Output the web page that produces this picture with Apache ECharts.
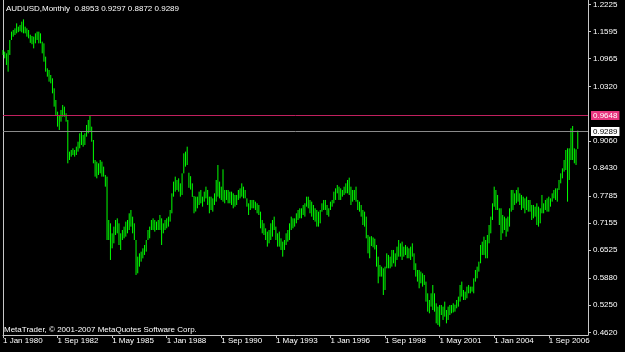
<!DOCTYPE html>
<html>
<head>
<meta charset="utf-8">
<title>AUDUSD,Monthly</title>
<script src="https://cdn.jsdelivr.net/npm/echarts@6/dist/echarts.min.js"></script>
<style>
    html, body { margin: 0; padding: 0; background: #000; }
    #chart_ref { width: 625px; height: 352px; }
</style>
</head>
<body>
<div id="chart_ref"></div>
<script>
    // monthly highs, one row per year, starting Jan 1980
    const highs = [
        1.1166, 1.1127, 1.1088, 1.1166, 1.1398, 1.1591, 1.1629, 1.1668, 1.1784, 1.1707, 1.1745, 1.1823,
        1.1877, 1.1707, 1.1668, 1.1629, 1.1520, 1.1490, 1.1475, 1.1552, 1.1591, 1.1591, 1.1552, 1.1359,
        1.1320, 1.1011, 1.0741, 1.0702, 1.0586, 1.0509, 1.0277, 1.0006, 0.9736, 0.9659, 0.9775, 0.9891,
        0.9852, 0.9697, 0.9543, 0.8809, 0.8847, 0.8886, 0.8847, 0.8924, 0.9040, 0.9234, 0.9272, 0.9195,
        0.9234, 0.9427, 0.9543, 0.9643, 0.9388, 0.9079, 0.8615, 0.8577, 0.8538, 0.8615, 0.8577, 0.8461,
        0.8268, 0.8229, 0.7224, 0.7147, 0.6915, 0.7070, 0.7224, 0.7263, 0.7147, 0.6915, 0.6992, 0.7070,
        0.7186, 0.7224, 0.7379, 0.7456, 0.7301, 0.7147, 0.6760, 0.6374, 0.6451, 0.6490, 0.6567, 0.6644,
        0.6760, 0.6992, 0.7070, 0.7224, 0.7263, 0.7224, 0.7186, 0.7224, 0.7340, 0.7263, 0.7147, 0.7224,
        0.7263, 0.7301, 0.7456, 0.7842, 0.8113, 0.8229, 0.8152, 0.8190, 0.8074, 0.8306, 0.8770, 0.8809,
        0.8924, 0.8320, 0.8240, 0.8074, 0.7780, 0.7765, 0.7765, 0.7881, 0.7920, 0.7765, 0.7881, 0.7997,
        0.7920, 0.7765, 0.7765, 0.7726, 0.7842, 0.8152, 0.8499, 0.8113, 0.7997, 0.8399, 0.7920, 0.7920,
        0.7920, 0.7881, 0.7881, 0.7842, 0.7804, 0.7804, 0.7920, 0.7958, 0.8074, 0.7997, 0.7920, 0.7726,
        0.7611, 0.7688, 0.7688, 0.7688, 0.7649, 0.7611, 0.7572, 0.7417, 0.7224, 0.7147, 0.7031, 0.6954,
        0.6992, 0.7147, 0.7224, 0.7302, 0.7070, 0.6915, 0.6954, 0.6799, 0.6722, 0.6760, 0.6915, 0.6992,
        0.7147, 0.7302, 0.7263, 0.7263, 0.7379, 0.7456, 0.7495, 0.7495, 0.7572, 0.7611, 0.7765, 0.7765,
        0.7688, 0.7649, 0.7572, 0.7495, 0.7456, 0.7417, 0.7456, 0.7611, 0.7688, 0.7688, 0.7572, 0.7495,
        0.7649, 0.7688, 0.7881, 0.7958, 0.8036, 0.7997, 0.7958, 0.7920, 0.7997, 0.8074, 0.8152, 0.8206,
        0.7997, 0.7920, 0.7920, 0.7997, 0.7688, 0.7649, 0.7572, 0.7456, 0.7417, 0.7302, 0.6876, 0.6838,
        0.6850, 0.6820, 0.6790, 0.6645, 0.6374, 0.6181, 0.6142, 0.6104, 0.6142, 0.6451, 0.6413, 0.6374,
        0.6529, 0.6529, 0.6451, 0.6606, 0.6760, 0.6683, 0.6722, 0.6606, 0.6645, 0.6606, 0.6567, 0.6606,
        0.6683, 0.6451, 0.6220, 0.6065, 0.6065, 0.6027, 0.5988, 0.5949, 0.5795, 0.5524, 0.5369, 0.5524,
        0.5717, 0.5524, 0.5292, 0.5215, 0.5253, 0.5253, 0.5215, 0.5331, 0.5137, 0.5215, 0.5253, 0.5253,
        0.5292, 0.5260, 0.5369, 0.5447, 0.5717, 0.5795, 0.5601, 0.5563, 0.5679, 0.5717, 0.5679, 0.5679,
        0.5872, 0.6065, 0.6142, 0.6258, 0.6645, 0.6722, 0.6838, 0.6760, 0.6876, 0.7108, 0.7302, 0.7611,
        0.7997, 0.7920, 0.7804, 0.7495, 0.7495, 0.7340, 0.7302, 0.7263, 0.7302, 0.7495, 0.7920, 0.7920,
        0.7842, 0.7920, 0.7981, 0.7842, 0.7804, 0.7765, 0.7726, 0.7765, 0.7688, 0.7688, 0.7572, 0.7572,
        0.7533, 0.7611, 0.7533, 0.7495, 0.7804, 0.7611, 0.7688, 0.7726, 0.7765, 0.7726, 0.7842, 0.7920,
        0.7958, 0.7958, 0.8152, 0.8306, 0.8422, 0.8615, 0.8847, 0.8886, 0.8886, 0.9350, 0.9404, 0.8886,
        0.8863, 0.9297
    ]
    // monthly lows, same layout
    const lows = [
        1.1050, 1.0973, 1.0818, 1.0663, 1.1050, 1.1398, 1.1475, 1.1514, 1.1552, 1.1580, 1.1600, 1.1575,
        1.1552, 1.1552, 1.1475, 1.1436, 1.1330, 1.1300, 1.1204, 1.1320, 1.1398, 1.1320, 1.1320, 1.1088,
        1.0895, 1.0663, 1.0547, 1.0431, 1.0393, 1.0161, 0.9852, 0.9659, 0.9388, 0.9311, 0.9504, 0.9620,
        0.9620, 0.9504, 0.8538, 0.8615, 0.8693, 0.8731, 0.8693, 0.8731, 0.8809, 0.8886, 0.8963, 0.8924,
        0.8963, 0.9156, 0.9234, 0.9272, 0.9040, 0.8538, 0.8229, 0.8190, 0.8268, 0.8306, 0.8229, 0.8229,
        0.7997, 0.6760, 0.6760, 0.6297, 0.6567, 0.6683, 0.6876, 0.6915, 0.6644, 0.6528, 0.6760, 0.6799,
        0.6838, 0.6915, 0.6992, 0.7070, 0.6915, 0.6760, 0.5949, 0.5988, 0.6142, 0.6258, 0.6335, 0.6413,
        0.6490, 0.6760, 0.6799, 0.6992, 0.6992, 0.6954, 0.6992, 0.6992, 0.6992, 0.6644, 0.6915, 0.6992,
        0.7031, 0.7070, 0.7186, 0.7379, 0.7765, 0.7881, 0.7920, 0.7881, 0.7765, 0.7804, 0.8306, 0.8461,
        0.8499, 0.7970, 0.7930, 0.7760, 0.7380, 0.7420, 0.7495, 0.7572, 0.7611, 0.7533, 0.7649, 0.7726,
        0.7572, 0.7379, 0.7456, 0.7417, 0.7572, 0.7649, 0.7765, 0.7726, 0.7688, 0.7649, 0.7611, 0.7688,
        0.7611, 0.7611, 0.7572, 0.7495, 0.7533, 0.7572, 0.7688, 0.7726, 0.7765, 0.7726, 0.7726, 0.7533,
        0.7340, 0.7456, 0.7495, 0.7495, 0.7456, 0.7379, 0.7340, 0.7031, 0.6915, 0.6876, 0.6760, 0.6606,
        0.6683, 0.6760, 0.6838, 0.6992, 0.6760, 0.6606, 0.6606, 0.6529, 0.6374, 0.6529, 0.6645, 0.6722,
        0.6760, 0.6992, 0.7031, 0.7070, 0.7147, 0.7224, 0.7263, 0.7263, 0.7340, 0.7302, 0.7533, 0.7495,
        0.7379, 0.7302, 0.7224, 0.7186, 0.7070, 0.7070, 0.7147, 0.7417, 0.7456, 0.7456, 0.7340, 0.7302,
        0.7456, 0.7533, 0.7611, 0.7688, 0.7842, 0.7688, 0.7688, 0.7765, 0.7804, 0.7842, 0.7842, 0.7804,
        0.7572, 0.7649, 0.7688, 0.7649, 0.7456, 0.7417, 0.7302, 0.7108, 0.7070, 0.6799, 0.6451, 0.6336,
        0.6620, 0.6590, 0.6540, 0.6142, 0.5756, 0.5911, 0.5911, 0.5485, 0.5601, 0.6104, 0.6104, 0.6104,
        0.6142, 0.6220, 0.6142, 0.6297, 0.6374, 0.6374, 0.6297, 0.6374, 0.6413, 0.6336, 0.6336, 0.6297,
        0.6374, 0.6065, 0.5911, 0.5795, 0.5640, 0.5756, 0.5679, 0.5718, 0.5331, 0.5099, 0.5060, 0.5215,
        0.5137, 0.5099, 0.4828, 0.4790, 0.4751, 0.5021, 0.4906, 0.4983, 0.4828, 0.4906, 0.5021, 0.5060,
        0.5080, 0.5099, 0.5176, 0.5215, 0.5331, 0.5447, 0.5369, 0.5369, 0.5408, 0.5524, 0.5524, 0.5563,
        0.5524, 0.5795, 0.5872, 0.6027, 0.6220, 0.6413, 0.6413, 0.6336, 0.6336, 0.6683, 0.6915, 0.7224,
        0.7533, 0.7456, 0.7456, 0.7108, 0.6760, 0.6915, 0.6992, 0.6838, 0.6954, 0.7070, 0.7417, 0.7456,
        0.7572, 0.7611, 0.7649, 0.7572, 0.7456, 0.7495, 0.7379, 0.7456, 0.7417, 0.7417, 0.7224, 0.7263,
        0.7302, 0.7108, 0.7070, 0.7147, 0.7379, 0.7379, 0.7456, 0.7417, 0.7417, 0.7533, 0.7649, 0.7726,
        0.7688, 0.7649, 0.7920, 0.8074, 0.8190, 0.8345, 0.8383, 0.7649, 0.8152, 0.8615, 0.8615, 0.8539,
        0.8500, 0.8872
    ]
    // price scale labels on the right
    const yTicks = [1.2225, 1.1595, 1.0965, 1.0320, 0.9060, 0.8430, 0.7785, 0.7155, 0.6525, 0.5880, 0.5250, 0.4620]
    const levelLine = 0.9648 // drawn horizontal line
    const lastPrice = 0.9289 // bid line
    const headerText = 'AUDUSD,Monthly  0.8953 0.9297 0.8872 0.9289'
    const monthNames = ['Jan', 'Feb', 'Mar', 'Apr', 'May', 'Jun', 'Jul', 'Aug', 'Sep', 'Oct', 'Nov', 'Dec']
    const startYear = 1980
    const shiftBars = 6 // empty bars on the right (chart shift)

    const categories = []
    for (let i = 0; i < highs.length + shiftBars; i++) {
        categories.push('1 ' + monthNames[i % 12] + ' ' + (startYear + Math.floor(i / 12)))
    }
    const barData = highs.map((h, i) => [i, h, lows[i]])

    const font = 'Liberation Sans, Arial, sans-serif'
    const axisColor = '#c8c8c8'

    //水平线 + 右侧价格标签
    function priceLine(value, lineColor, labelBg, labelColor) {
        return {
            type: 'custom',
            silent: true,
            clip: false,
            data: [[0, value]],
            encode: {x: 0, y: 1},
            renderItem: (params, api) => {
                const cs = params.coordSys
                const y = Math.round(api.coord([0, api.value(1)])[1]) + 0.5
                return {
                    type: 'group',
                    children: [
                        {
                            type: 'line',
                            shape: {x1: cs.x, y1: y, x2: cs.x + cs.width, y2: y},
                            style: {stroke: lineColor, lineWidth: 1}
                        },
                        {
                            type: 'text',
                            x: cs.x + cs.width + 3,
                            y: y,
                            style: {
                                text: value.toFixed(4),
                                fill: labelColor,
                                backgroundColor: labelBg,
                                padding: [1, 2, 0, 2],
                                font: '8px ' + font,
                                verticalAlign: 'middle'
                            }
                        }
                    ]
                }
            }
        }
    }

    const chartInstance = echarts.init(document.getElementById('chart_ref'))
    const option = {
        backgroundColor: '#000000',
        animation: false,
        title: [
            {
                text: headerText,
                left: 6, top: 5, padding: 0,
                textStyle: {color: '#ffffff', fontSize: 8, fontWeight: 'normal', fontFamily: font}
            },
            {
                text: 'MetaTrader, © 2001-2007 MetaQuotes Software Corp.',
                left: 4, top: 326, padding: 0,
                textStyle: {color: '#ffffff', fontSize: 8, fontWeight: 'normal', fontFamily: font}
            }
        ],
        grid: {left: 2.5, right: 37, top: 0, bottom: 17},
        xAxis: {
            type: 'category',
            data: categories,
            boundaryGap: false,
            axisLine: {lineStyle: {color: axisColor, width: 1}},
            axisTick: {interval: 31, length: 3, lineStyle: {color: axisColor}},
            axisLabel: {
                interval: 31, align: 'left', margin: 2,
                color: '#ffffff', fontSize: 8, fontFamily: font
            },
            splitLine: {show: false}
        },
        yAxis: [
            {
                type: 'value',
                position: 'right',
                min: 0.45574,
                max: 1.2325,
                axisLine: {show: true, lineStyle: {color: axisColor, width: 1}},
                axisTick: {show: true, length: 3, customValues: yTicks, lineStyle: {color: axisColor}},
                axisLabel: {
                    customValues: yTicks,
                    margin: 5,
                    color: '#ffffff', fontSize: 8, fontFamily: font,
                    formatter: v => v.toFixed(4)
                },
                splitLine: {show: false}
            },
            {
                type: 'value',
                position: 'left',
                min: 0.45574,
                max: 1.2325,
                axisLine: {show: true, lineStyle: {color: axisColor, width: 1}},
                axisTick: {show: false},
                axisLabel: {show: false},
                splitLine: {show: false}
            }
        ],
        series: [
            {
                type: 'custom',
                yAxisIndex: 0,
                data: barData,
                encode: {x: 0, y: [1, 2]},
                renderItem: (params, api) => {
                    const top = api.coord([api.value(0), api.value(1)])
                    const bottom = api.coord([api.value(0), api.value(2)])
                    return {
                        type: 'line',
                        shape: {x1: top[0], y1: top[1], x2: bottom[0], y2: bottom[1]},
                        style: {stroke: '#00ff00', lineWidth: 1}
                    }
                }
            },
            priceLine(levelLine, '#c0205e', '#e8367f', '#ffffff'),
            priceLine(lastPrice, '#8a8a8a', '#ffffff', '#000000')
        ]
    }
    chartInstance.setOption(option)
</script>
</body>
</html>
